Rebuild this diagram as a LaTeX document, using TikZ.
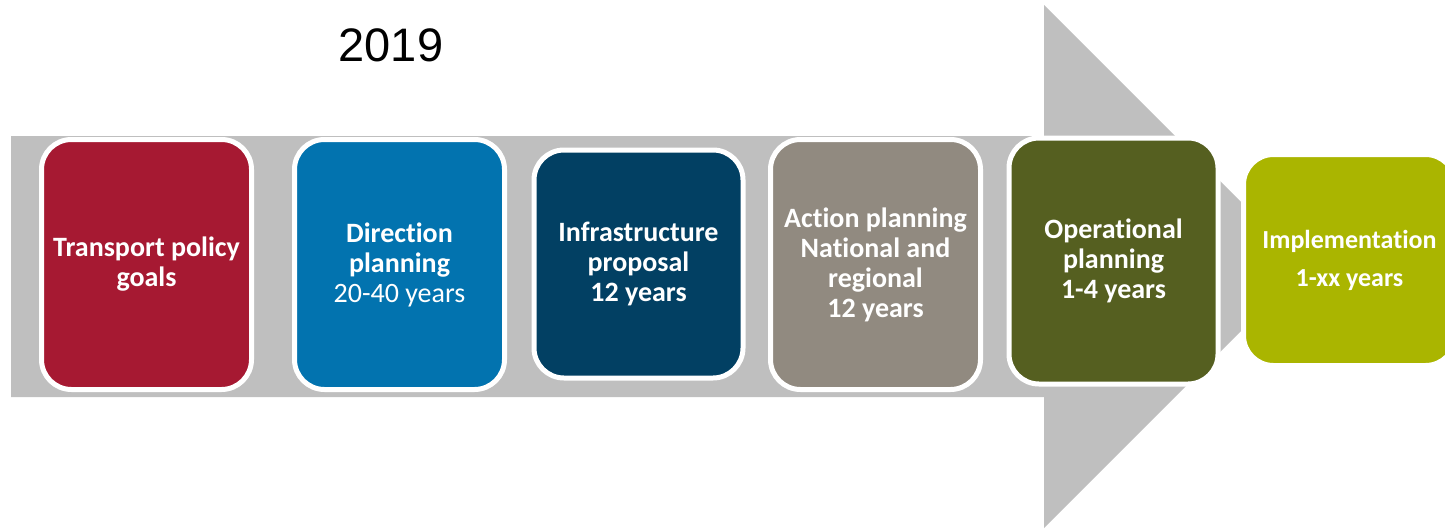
\documentclass[tikz,border=0pt]{standalone}
\usepackage{fontspec}
\setmainfont{Carlito}[Ligatures=NoCommon]
\newfontfamily\yearfont{Liberation Sans}
\definecolor{arrowgray}{RGB}{191,191,191}
\definecolor{goalred}{RGB}{166,25,50}
\definecolor{dirblue}{RGB}{2,115,175}
\definecolor{infranavy}{RGB}{2,64,99}
\definecolor{actiontaupe}{RGB}{145,138,128}
\definecolor{opolive}{RGB}{85,95,32}
\definecolor{implime}{RGB}{170,181,0}
\tikzstyle{stage}=[draw=white,line width=5pt,rounded corners=30pt,text=white,align=center,
  font=\bfseries\fontsize{28}{30}\selectfont,minimum width=210pt,minimum height=250pt,inner sep=0pt]

\begin{document}
\begin{tikzpicture}[x=1pt,y=-1pt]
  \clip (0,0) rectangle (1445,530);
  \fill[arrowgray] (11,136) -- (1044,136) -- (1044,5) -- (1305.5,266.5)
    -- (1044,528) -- (1044,397) -- (11,397) -- cycle;
  \node[anchor=center,font=\yearfont\fontsize{47}{56}\selectfont] (year) at (391,45) {2019};
  \node[stage,fill=goalred] (goals) at (146.5,264.5) {Transport policy\\goals};
  \node[stage,fill=dirblue] (direction) at (399.5,264.5) {Direction\\planning\\{\mdseries 20-40 years}};
  \node[stage,fill=infranavy,minimum width=209pt,minimum height=228pt] (infra) at (638.5,264)
    {Infrastructure\\proposal\\12 years};
  \node[stage,fill=actiontaupe] (action) at (875.5,264.5) {Action planning\\National and\\regional\\12 years};
  \node[stage,fill=opolive,minimum width=209pt,minimum height=246pt] (operational) at (1113.5,261)
    {Operational\\planning\\1-4 years};
  \node[stage,fill=implime,minimum width=212pt,minimum height=211pt,
    font=\bfseries\fontsize{26}{30}\selectfont] (implementation) at (1349.5,260)
    {Implementation\\[8pt]1-xx years};
\end{tikzpicture}
\end{document}
